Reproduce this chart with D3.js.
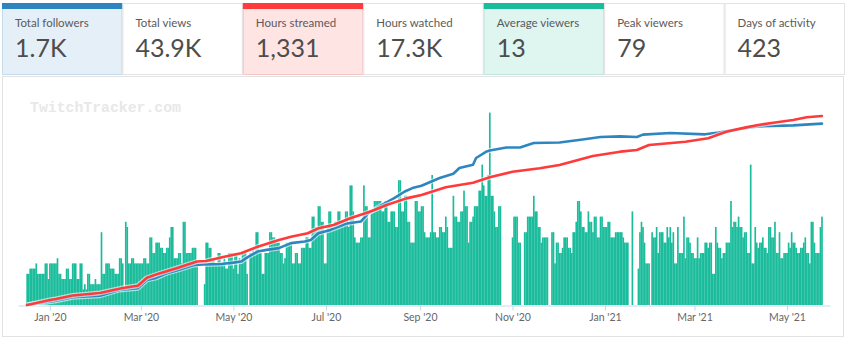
<!DOCTYPE html>
<html lang="en">
<head>
<meta charset="UTF-8">
<title>Channel stats</title>
<script src="https://d3js.org/d3.v7.min.js"></script>
<style>
  body { margin: 0; background: #fff; }
  svg { display: block; font-family: Lato, "Open Sans", sans-serif; }
</style>
</head>
<body>
<div id="chart"></div>
<script>
// Stat tiles
var tileLabels = ["Total followers", "Total views", "Hours streamed", "Hours watched", "Average viewers", "Peak viewers", "Days of activity"];
var tileValues = ["1.7K", "43.9K", "1,331", "17.3K", "13", "79", "423"];

// Daily average viewers, one value per day from the first day
var barStart = "2019-12-17";
var avgViewers = [
  6,6,7,7,7,7,8,6,6,6,
  6,6,8,8,5,8,8,8,8,8,
  9,6,6,5,5,5,7,7,5,5,
  8,8,8,5,5,8,8,3,4,3,
  6,6,4,4,4,5,4,4,4,14,
  6,6,8,8,8,7,7,7,6,6,
  6,9,9,8,3,16,15,8,8,9,
  9,8,8,8,8,8,8,9,9,8,
  8,13,13,10,10,12,12,12,11,11,
  10,10,11,11,13,15,15,9,9,9,
  10,10,8,16,16,10,10,10,10,11,
  11,11,8,0,0,0,0,4,12,12,
  11,11,9,9,8,8,10,10,8,8,
  9,7,7,10,10,10,7,10,10,6,
  9,8,10,10,10,6,0,10,10,11,
  10,14,14,10,10,6,6,10,10,10,
  14,14,13,13,12,12,12,10,10,8,
  9,12,12,12,12,8,8,10,10,8,
  8,11,11,11,13,13,11,11,17,17,
  15,15,19,19,16,16,8,8,15,18,
  18,15,15,16,16,18,18,16,16,16,
  18,18,15,23,23,18,13,12,12,12,
  13,13,23,19,19,13,13,18,18,20,
  20,20,20,20,18,18,20,20,16,16,
  18,18,18,15,15,24,24,18,18,21,
  21,16,16,12,12,12,20,20,18,18,
  19,19,14,13,13,13,14,25,14,14,
  13,13,15,15,14,14,17,15,11,11,
  11,21,17,17,16,16,18,18,22,19,
  19,12,16,16,17,19,19,19,22,22,
  27,23,21,21,25,37,21,21,18,15,
  15,19,19,0,0,0,0,0,0,0,
  13,17,17,17,12,12,0,0,14,14,
  17,17,17,17,21,18,18,15,15,12,
  13,13,13,13,0,0,14,14,8,12,
  12,10,10,11,13,13,13,11,11,10,
  14,14,16,20,20,18,15,15,14,14,
  18,16,16,14,17,17,13,13,17,17,
  15,15,15,16,16,13,13,13,14,14,
  14,14,14,13,12,12,12,0,0,18,
  0,0,0,7,14,16,15,12,8,8,
  8,0,14,13,13,15,10,14,14,14,
  12,12,15,13,15,12,14,8,8,15,
  10,10,10,17,9,13,13,12,10,10,
  9,9,13,9,10,10,10,12,12,11,
  12,12,6,6,15,12,11,11,9,10,
  10,12,12,12,20,15,16,16,15,17,
  15,15,13,14,14,10,10,27,8,8,
  15,12,11,12,12,13,11,11,10,15,
  15,13,13,16,10,10,14,9,9,10,
  10,10,12,11,14,12,12,11,10,10,
  11,11,12,13,10,10,8,16,16,12,
  10,10,10,15,17
];

// Cumulative followers
var followerDates = ["2019-12-17","2020-01-05","2020-01-16","2020-02-03","2020-02-16","2020-02-28","2020-03-05","2020-03-11","2020-03-18","2020-03-24",
  "2020-04-05","2020-04-11","2020-04-23","2020-05-01","2020-05-06","2020-05-11","2020-05-17","2020-05-23","2020-05-31","2020-06-08",
  "2020-06-17","2020-06-21","2020-06-26","2020-07-04","2020-07-14","2020-07-24","2020-07-29","2020-08-07","2020-08-15","2020-08-22",
  "2020-08-27","2020-09-02","2020-09-14","2020-09-23","2020-09-27","2020-10-06","2020-10-08","2020-10-15","2020-10-17","2020-10-28",
  "2020-11-06","2020-11-15","2020-12-02","2020-12-16","2020-12-29","2021-01-11","2021-01-22","2021-01-26","2021-02-13","2021-03-08",
  "2021-03-17","2021-03-30","2021-04-13","2021-05-05","2021-05-24"];
var followerCounts = [0,40,72,87,141,157,235,254,298,322,
  376,380,385,397,407,454,501,517,533,580,
  595,610,673,704,761,782,861,939,1002,1064,
  1096,1118,1190,1230,1284,1315,1378,1440,1449,1477,
  1477,1519,1524,1550,1575,1581,1575,1597,1613,1600,
  1618,1650,1675,1684,1700];

// Cumulative hours streamed
var hourDates = ["2019-12-17","2020-01-01","2020-01-05","2020-01-16","2020-02-03","2020-02-18","2020-02-28","2020-03-05","2020-03-12","2020-03-25",
  "2020-04-07","2020-04-13","2020-04-25","2020-05-06","2020-05-17","2020-05-31","2020-06-08","2020-06-19","2020-06-26","2020-07-06",
  "2020-07-17","2020-07-27","2020-08-02","2020-08-10","2020-08-23","2020-09-02","2020-09-18","2020-10-06","2020-10-17","2020-11-01",
  "2020-11-19","2020-12-02","2020-12-24","2021-01-11","2021-01-22","2021-01-30","2021-02-23","2021-03-10","2021-03-22","2021-04-04",
  "2021-04-12","2021-04-22","2021-05-05","2021-05-14","2021-05-24"];
var hourTotals = [0,35,42,67,85,120,136,192,218,261,
  306,310,340,364,411,458,481,505,540,563,
  611,646,669,704,751,775,829,861,899,939,
  963,986,1049,1080,1092,1127,1150,1174,1220,1251,
  1268,1284,1303,1322,1331];

var tickMonths = ["2020-01-01","2020-03-01","2020-05-01","2020-07-01","2020-09-01","2020-11-01","2021-01-01","2021-03-01","2021-05-01"];

var width = 850, height = 342;
var parse = d3.timeParse("%Y-%m-%d");

var svg = d3.select("#chart").append("svg")
    .attr("width", width)
    .attr("height", height);

// ---- tiles ----
var tileTop = 3, tileBottom = 75, tileLeft = 2, tileRight = 845;
var tileW = (tileRight - tileLeft) / tileLabels.length;
var tileStyle = {
  0: { accent: "#2e86c1", bg: "#e4eff8", border: "#c6dbea" },
  2: { accent: "#ff3b3b", bg: "#ffe4e4", border: "#f5c6c6" },
  4: { accent: "#1abc9c", bg: "#def5f0", border: "#bfe6dd" }
};

var tiles = svg.selectAll("g.tile")
    .data(tileLabels)
    .enter().append("g")
    .attr("class", "tile")
    .attr("transform", function (d, i) { return "translate(" + (tileLeft + i * tileW) + "," + tileTop + ")"; });

tiles.append("rect")
    .attr("x", 0.5).attr("y", 0.5)
    .attr("width", tileW - 1)
    .attr("height", tileBottom - tileTop - 1)
    .attr("fill", function (d, i) { return tileStyle[i] ? tileStyle[i].bg : "#fff"; })
    .attr("stroke", function (d, i) { return tileStyle[i] ? tileStyle[i].border : "#e3e3e3"; });

tiles.filter(function (d, i) { return tileStyle[i]; })
    .append("rect")
    .attr("x", 0).attr("y", 0)
    .attr("width", tileW)
    .attr("height", 6)
    .attr("fill", function (d) { return tileStyle[tileLabels.indexOf(d)].accent; });

tiles.append("text")
    .attr("x", 13).attr("y", 24)
    .attr("font-size", 11.5)
    .attr("fill", "#5a5a5a")
    .text(function (d) { return d; });

tiles.append("text")
    .attr("x", 13).attr("y", 54)
    .attr("font-size", 25)
    .attr("fill", "#4d4d4d")
    .text(function (d, i) { return tileValues[i]; });

// ---- chart panel ----
svg.append("rect")
    .attr("x", 2.5).attr("y", 76.5)
    .attr("width", 841).attr("height", 260)
    .attr("fill", "#fff")
    .attr("stroke", "#e2e2e2");

svg.append("text")
    .attr("x", 30).attr("y", 112)
    .attr("font-family", "'Liberation Mono', 'DejaVu Sans Mono', monospace")
    .attr("font-weight", "bold")
    .attr("font-size", 14.8)
    .attr("fill", "#e8e8e8")
    .text("TwitchTracker.com");

// ---- scales ----
var first = parse(barStart);
var last = d3.timeDay.offset(first, avgViewers.length - 1);
var x = d3.scaleTime()
    .domain([d3.timeDay.offset(first, -6), d3.timeHour.offset(last, 5 * 24 + 8)])
    .range([18, 830]);

var plotBottom = 305, plotTop = 97;
var yViewers = d3.scaleLinear().domain([0, 40]).range([plotBottom, plotTop]);
var yFollowers = d3.scaleLinear().domain([0, 1950]).range([plotBottom, plotTop]);
var yHours = d3.scaleLinear().domain([0, 1465]).range([plotBottom, plotTop]);

var dayPx = x(d3.timeDay.offset(first, 1)) - x(first);

// ---- bars (days without a stream are skipped) ----
var barData = avgViewers.map(function (v, i) { return { date: d3.timeDay.offset(first, i), v: v }; })
    .filter(function (d) { return d.v > 0; });

svg.append("g")
    .selectAll("rect")
    .data(barData)
    .enter().append("rect")
    .attr("x", function (d) { return x(d.date) - dayPx / 2; })
    .attr("y", function (d) { return yViewers(d.v); })
    .attr("width", dayPx + 0.15)
    .attr("height", function (d) { return plotBottom - yViewers(d.v); })
    .attr("fill", "#1abc9c");

// ---- x axis ----
var xAxis = svg.append("g")
    .attr("transform", "translate(0," + (plotBottom + 0.5) + ")")
    .call(d3.axisBottom(x)
        .tickValues(tickMonths.map(parse))
        .tickFormat(d3.timeFormat("%b '%y"))
        .tickSize(5)
        .tickSizeOuter(0));
xAxis.select(".domain").attr("stroke", "#ccd6eb");
xAxis.selectAll(".tick line").attr("stroke", "#ccd6eb");
xAxis.selectAll(".tick text")
    .attr("y", 8)
    .attr("font-family", "Lato, sans-serif")
    .attr("font-size", 10.5)
    .attr("fill", "#666");

// ---- lines ----
function drawLine(dates, values, yScale, color) {
  var pts = dates.map(function (d, i) { return [x(parse(d)), yScale(values[i])]; });
  var line = d3.line();
  svg.append("path")
      .attr("d", line(pts))
      .attr("fill", "none")
      .attr("stroke", "#ffffff")
      .attr("stroke-opacity", 0.6)
      .attr("stroke-width", 5)
      .attr("stroke-linejoin", "round");
  svg.append("path")
      .attr("d", line(pts))
      .attr("fill", "none")
      .attr("stroke", color)
      .attr("stroke-width", 2.6)
      .attr("stroke-linejoin", "round")
      .attr("stroke-linecap", "round");
}

drawLine(followerDates, followerCounts, yFollowers, "#2e86c1");
drawLine(hourDates, hourTotals, yHours, "#ff3a3a");
</script>
</body>
</html>
